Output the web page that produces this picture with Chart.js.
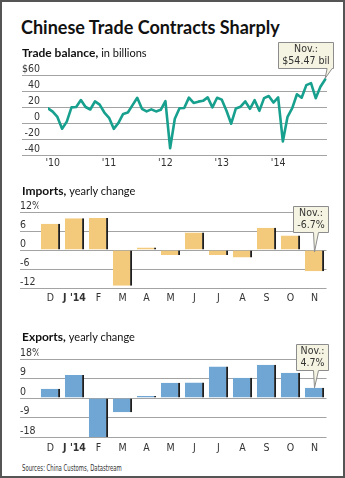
<!DOCTYPE html>
<html>
<head>
<meta charset="utf-8">
<script src="https://cdn.jsdelivr.net/npm/chart.js@4.4.0/dist/chart.umd.min.js"></script>
<style>
  html, body { margin:0; padding:0; background:#fff; }
  body { width:345px; height:478px; overflow:hidden; position:relative; font-family: Lato, 'Open Sans', sans-serif; color:#111; }
  .frame { position:absolute; left:0; top:0; width:341px; height:474px; border:2px solid #555; z-index:5; pointer-events:none; }
  .box { position:absolute; left:0; width:345px; }
  .txt { position:absolute; white-space:nowrap; z-index:4; line-height:1; }
  .title { left:21px; top:18px; font-size:18px; font-weight:700; }
  .sub { font-size:12px; font-weight:700; }
  .sub span { font-weight:400; font-size:11px; }
  .src { left:22px; top:464px; font-family:'Liberation Sans Narrow','DejaVu Sans Condensed',sans-serif; font-size:9px; color:#333; transform:scaleX(0.66); transform-origin:left top; }
</style>
</head>
<body>
<div class="frame"></div>
<div class="txt title">Chinese Trade Contracts Sharply</div>
<div class="txt sub" style="left:22px;top:47px;">Trade balance, <span>in billions</span></div>
<div class="txt sub" style="left:22px;top:185px;">Imports, <span>yearly change</span></div>
<div class="txt sub" style="left:22px;top:331px;">Exports, <span>yearly change</span></div>
<div class="txt src">Sources: China Customs, Datastream</div>

<div class="box" style="top:38px;height:137px;"><canvas id="c1" width="345" height="137"></canvas></div>
<div class="box" style="top:190px;height:115px;"><canvas id="c2" width="345" height="115"></canvas></div>
<div class="box" style="top:330px;height:125px;"><canvas id="c3" width="345" height="125"></canvas></div>

<script>
// ---------- DATA ----------
// Monthly trade balance, Dec 2009 .. Nov 2014 (billions USD)
const balanceValues = [
  18.4,
  14.2, 7.6, -7.2, 1.7, 19.5, 20.0, 28.7, 20.0, 16.9, 27.1, 22.9, 13.1,
  6.5, -7.3, 0.1, 11.4, 13.1, 22.3, 31.5, 17.8, 14.5, 17.0, 14.5, 16.5,
  27.3, -31.5, 5.4, 18.4, 18.7, 31.7, 25.1, 26.7, 27.7, 32.0, 19.6, 31.6,
  29.2, 15.3, -0.9, 18.2, 20.4, 27.1, 17.8, 28.5, 15.2, 31.1, 33.8, 25.6,
  31.9, -23.0, 7.7, 18.5, 35.9, 31.6, 47.3, 49.8, 31.0, 45.4, 54.47
];
const yearTickIndex = [1, 13, 25, 37, 49];
const yearTickLabels = ["'10", "'11", "'12", "'13", "'14"];
const balanceTicks = [-40, -20, 0, 20, 40, 60];

const monthLabels = ['D', "J '14", 'F', 'M', 'A', 'M', 'J', 'J', 'A', 'S', 'O', 'N'];
const importsValues = [8.3, 10.0, 10.1, -11.3, 0.8, -1.6, 5.5, -1.6, -2.4, 7.0, 4.6, -6.7];
const exportsValues = [4.3, 10.6, -18.1, -6.6, 0.9, 7.0, 7.2, 14.5, 9.4, 15.3, 11.6, 4.7];
const importsTicks = [-12, -6, 0, 6, 12];
const exportsTicks = [-18, -9, 0, 9, 18];

const balanceNote = ['Nov.:', '$54.47 bil'];
const importsNote = ['Nov.:', '-6.7%'];
const exportsNote = ['Nov.:', '4.7%'];

// ---------- STYLE ----------
const NARROW = "'Liberation Sans Narrow','DejaVu Sans Condensed',sans-serif";
const GRID = '#a3a3a3';
const TICKCOL = '#333';

const calloutPlugin = {
  id: 'callout',
  afterDatasetsDraw(chart, args, o) {
    if (!o || !o.lines) return;
    const el = chart.getDatasetMeta(0).data[o.index];
    const x = el.x;
    const y = (o.toZero ? chart.scales.y.getPixelForValue(0) : el.y) + (o.tipDy || 0);
    const ctx = chart.ctx;
    ctx.save();
    ctx.font = o.fontSize + 'px ' + NARROW;
    const tw = Math.max(...o.lines.map(l => ctx.measureText(l).width));
    const w = Math.round(tw + 2 * o.padX);
    const h = o.lines.length * o.lineH + 2 * o.padY;
    const right = Math.round(x + o.rightDx) + 0.5;
    const left = right - w;
    const bottom = Math.round(y - o.gap) + 0.5;
    const top = bottom - h;
    const t1 = x + o.tail1, t2 = x + o.tail2;
    ctx.beginPath();
    ctx.moveTo(left, top);
    ctx.lineTo(right, top);
    ctx.lineTo(right, bottom);
    ctx.lineTo(t2, bottom);
    ctx.lineTo(x + (o.tipDx || 0), y);
    ctx.lineTo(t1, bottom);
    ctx.lineTo(left, bottom);
    ctx.closePath();
    ctx.fillStyle = '#f5f3e1';
    ctx.fill();
    ctx.strokeStyle = '#8c8c8c';
    ctx.lineWidth = 1;
    ctx.stroke();
    ctx.fillStyle = '#333';
    ctx.textAlign = 'center';
    ctx.textBaseline = 'middle';
    o.lines.forEach((l, i) => {
      ctx.fillText(l, (left + right) / 2, top + o.padY + o.lineH * (i + 0.5));
    });
    ctx.restore();
  }
};
Chart.register(calloutPlugin);

// ---------- CHART 1: trade balance ----------
new Chart(document.getElementById('c1'), {
  type: 'line',
  data: {
    datasets: [{
      data: balanceValues.map((v, i) => ({ x: i, y: v })),
      borderColor: '#17a08e',
      borderWidth: 2.6,
      pointRadius: 0,
      tension: 0,
      borderJoinStyle: 'round',
      borderCapStyle: 'round',
      fill: false
    }]
  },
  options: {
    responsive: false, animation: false,
    layout: { padding: { top: 37, left: 22, right: 18, bottom: 0 } },
    plugins: {
      legend: { display: false }, tooltip: { enabled: false },
      callout: { index: balanceValues.length - 1, lines: balanceNote, fontSize: 10.5, lineH: 11.5, padX: 4, padY: 1.5,
                 rightDx: 8, gap: 10, tail1: 2, tail2: 7, tipDy: -1 }
    },
    scales: {
      x: {
        type: 'linear', min: 0, max: 59.4,
        afterFit(s) { s.height = 20; },
        afterBuildTicks(s) { s.ticks = yearTickIndex.map(v => ({ value: v })); },
        grid: { display: false, drawTicks: false },
        border: { display: false },
        ticks: {
          autoSkip: false, maxRotation: 0, padding: 2, color: TICKCOL,
          font: { family: NARROW, size: 10.5 },
          callback: (v) => yearTickLabels[yearTickIndex.indexOf(v)]
        }
      },
      y: {
        min: -40, max: 60,
        afterFit(s) { s.width = 26; },
        afterBuildTicks(s) { s.ticks = balanceTicks.map(v => ({ value: v })); },
        grid: { color: GRID, lineWidth: 1, drawTicks: true, tickLength: 26, tickColor: GRID },
        border: { display: false },
        ticks: {
          crossAlign: 'near', padding: -18, labelOffset: -6, color: TICKCOL,
          font: { family: NARROW, size: 10.5 },
          callback: (v) => v === 60 ? '$60' : String(v)
        }
      }
    }
  }
});

// ---------- bar chart factory ----------
function barChart(id, values, ticks, color, note, topPad, xH, xPad, toZero, noteOpts) {
  const mn = ticks[0], mx = ticks[ticks.length - 1];
  return new Chart(document.getElementById(id), {
    type: 'bar',
    data: {
      labels: monthLabels,
      datasets: [{
        data: values,
        backgroundColor: color,
        borderColor: '#1e1e1e',
        borderWidth: { top: 0, right: 2, bottom: 0, left: 0 },
        borderSkipped: false,
        barPercentage: 0.8,
        categoryPercentage: 1.0
      }]
    },
    options: {
      responsive: false, animation: false,
      layout: { padding: { top: topPad, left: 20, right: 18.5, bottom: 0 } },
      plugins: {
        legend: { display: false }, tooltip: { enabled: false },
        callout: Object.assign({ index: values.length - 1, lines: note, fontSize: 10.5, lineH: 11.5, padX: 4, padY: 1.5, toZero }, noteOpts)
      },
      scales: {
        x: {
          afterFit(s) { s.height = xH; },
          grid: { display: false, drawTicks: false },
          border: { display: false },
          ticks: {
            autoSkip: false, maxRotation: 0, padding: xPad, color: TICKCOL,
            font: (c) => ({ family: NARROW, size: 10.5, weight: c.index === 1 ? 'bold' : 'normal' })
          }
        },
        y: {
          min: mn, max: mx,
          afterFit(s) { s.width = 18.5; },
          afterBuildTicks(s) { s.ticks = ticks.map(v => ({ value: v })); },
          grid: { color: GRID, lineWidth: 1, drawTicks: true, tickLength: 18.5, tickColor: GRID },
          border: { display: false },
          ticks: {
            crossAlign: 'far', labelOffset: -6, color: TICKCOL,
            font: { family: NARROW, size: 10.5 },
            callback: (v) => v === mx ? v + '%' : String(v)
          }
        }
      }
    }
  });
}

barChart('c2', importsValues, importsTicks, '#f3ca7c', importsNote, 22, 17, 4, true,
  { rightDx: 13.5, gap: 20, tail1: -1, tail2: 4, tipDy: 2 });
barChart('c3', exportsValues, exportsTicks, '#70a6d3', exportsNote, 29, 18, 5, false,
  { rightDx: 13.5, gap: 18, tail1: -1, tail2: 4, tipDy: 0 });
</script>
</body>
</html>
